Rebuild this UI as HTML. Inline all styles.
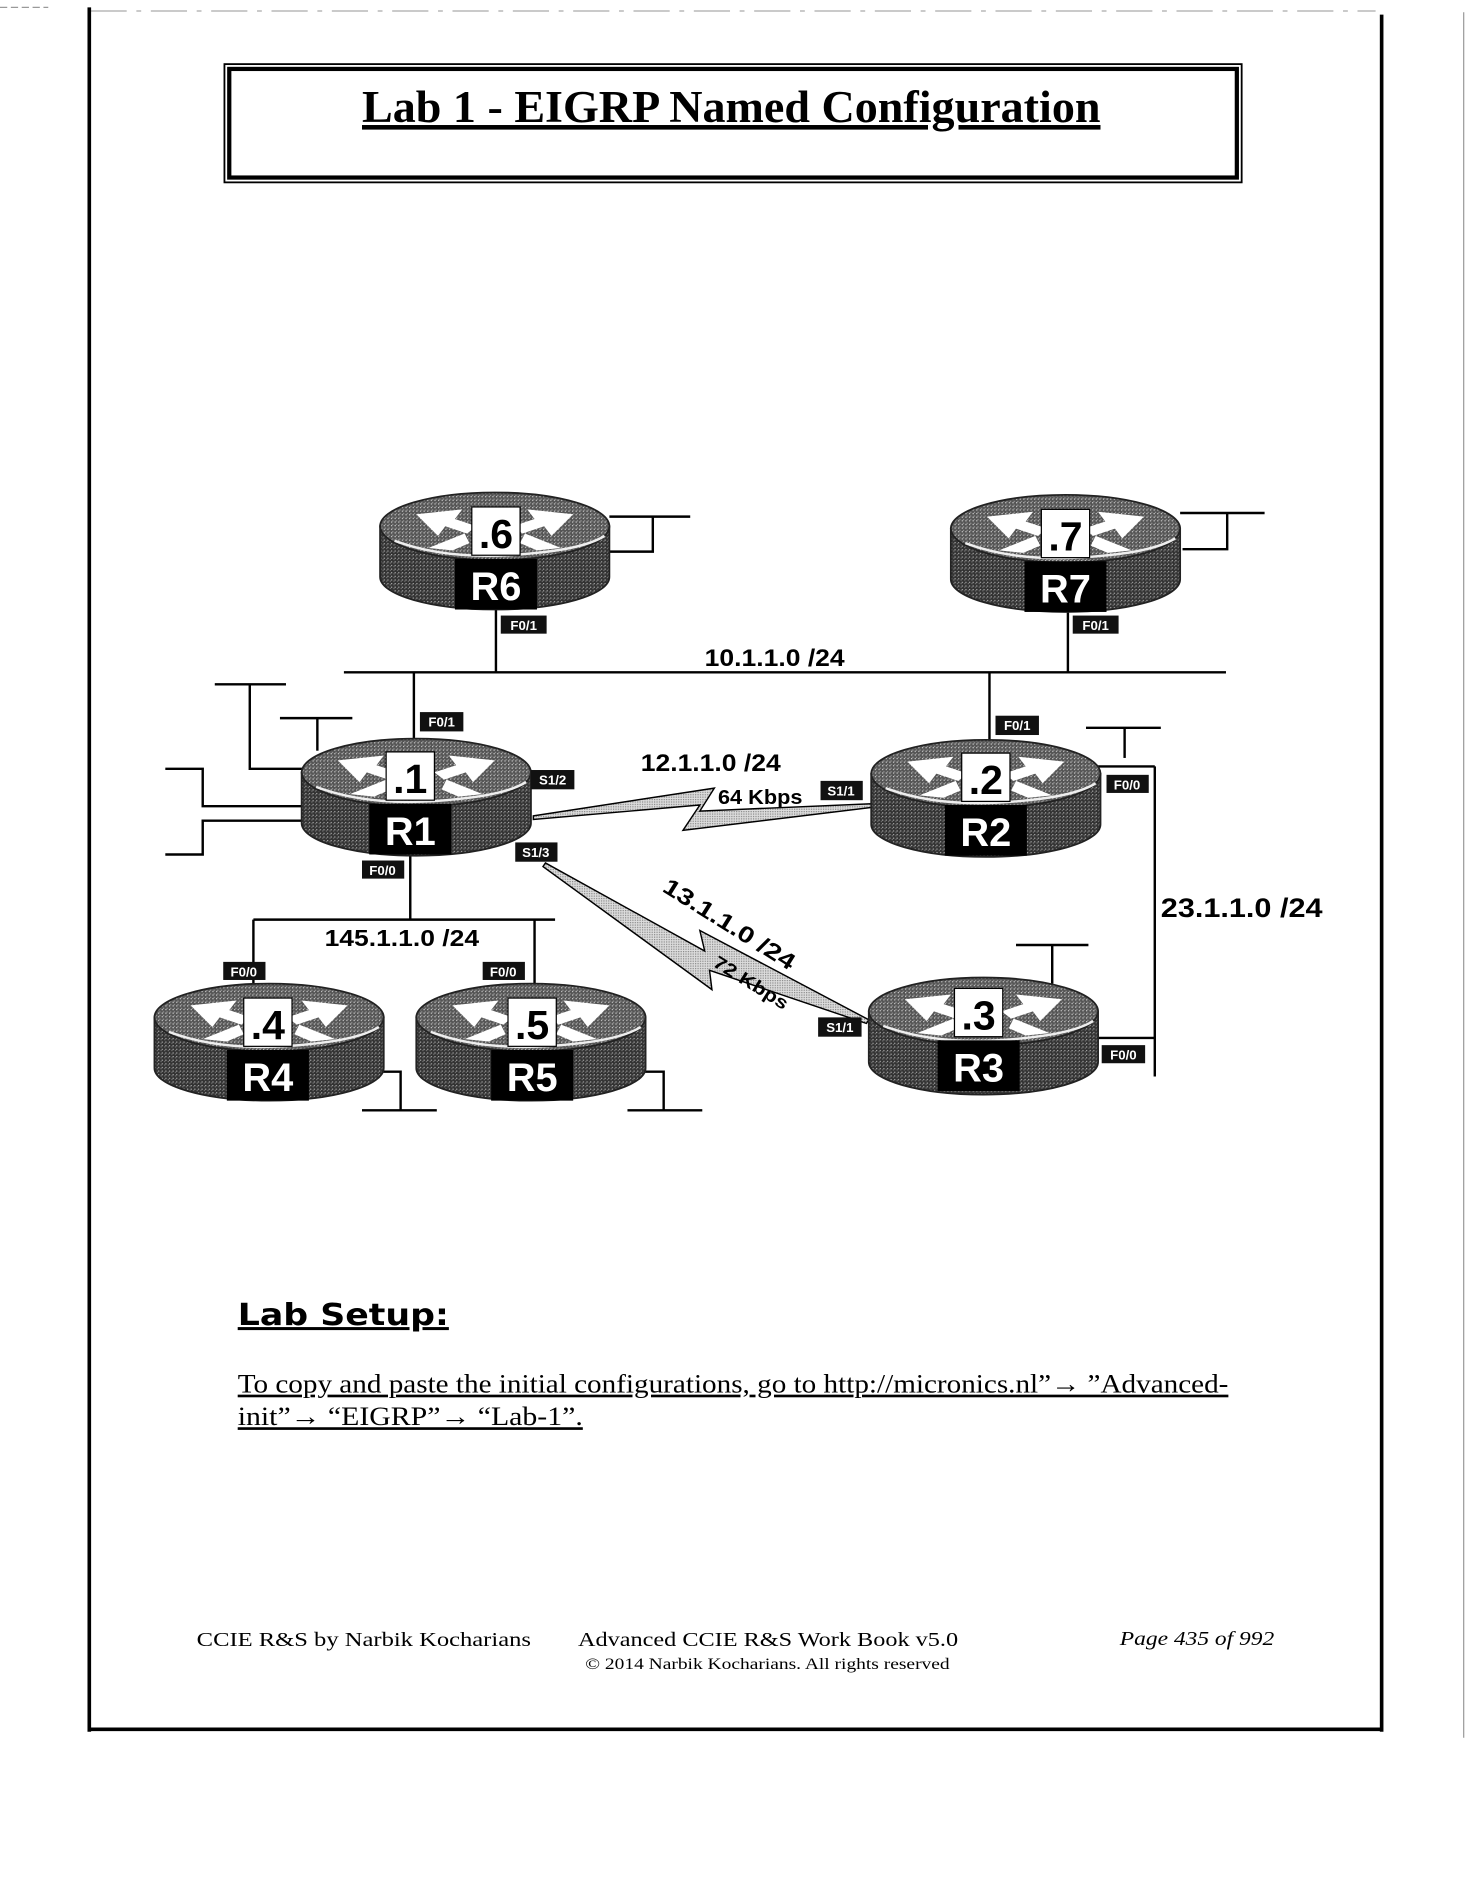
<!DOCTYPE html>
<html><head><meta charset="utf-8"><style>
html,body{margin:0;padding:0;background:#fff;}
svg{display:block;}
</style></head><body>
<svg width="1483" height="1896" viewBox="0 0 1229 1571" xmlns="http://www.w3.org/2000/svg">
<defs>
<pattern id="dith" width="3" height="3" patternUnits="userSpaceOnUse">
<rect width="3" height="3" fill="#333"/><rect width="1" height="1" fill="#aaa"/><rect x="2" y="1" width="1" height="1" fill="#777"/>
</pattern>
<pattern id="dith2" width="3" height="3" patternUnits="userSpaceOnUse">
<rect width="3" height="3" fill="#555"/><rect width="1" height="1" fill="#ccc"/><rect x="1" y="2" width="1" height="1" fill="#999"/>
</pattern>
<pattern id="lz" width="2" height="2" patternUnits="userSpaceOnUse">
<rect width="2" height="2" fill="#ddd"/><rect width="1" height="1" fill="#888"/>
</pattern>
<g id="rt">
<path d="M0,28 L0,70 A95,27 0 0 0 190,70 L190,28 Z" fill="url(#dith)" stroke="#222" stroke-width="1.5"/>
<ellipse cx="95" cy="28" rx="95" ry="28" fill="url(#dith2)" stroke="#222" stroke-width="1.5"/>
<path d="M12,40 Q60,58 130,50 Q170,46 186,36" fill="none" stroke="#eee" stroke-width="2"/>
<polygon points="30,18 68,14 62,22 80,28 72,34 54,28 48,36" fill="#fff"/>
<polygon points="160,18 122,14 128,22 110,28 118,34 136,28 142,36" fill="#fff"/>
<polygon points="40,46 70,34 74,42 60,48" fill="#fff"/>
<polygon points="150,46 120,34 116,42 130,48" fill="#fff"/>
</g>
</defs>

<line x1="0" y1="6" x2="40" y2="6" stroke="#999" stroke-width="1" stroke-dasharray="6 3"/>
<line x1="75" y1="9" x2="1140" y2="9" stroke="#aaa" stroke-width="1" stroke-dasharray="30 8 4 8"/>
<line x1="74" y1="6" x2="74" y2="1435" stroke="#000" stroke-width="3"/>
<line x1="73" y1="1433" x2="1146" y2="1433" stroke="#000" stroke-width="3"/>
<line x1="1145" y1="12" x2="1145" y2="1435" stroke="#000" stroke-width="3"/>
<line x1="1213" y1="10" x2="1213" y2="1440" stroke="#999" stroke-width="1"/>

<rect x="186" y="53" width="843" height="98" fill="none" stroke="#000" stroke-width="1.5"/>
<rect x="190" y="57" width="835" height="90" fill="none" stroke="#000" stroke-width="3.5"/>
<text x="300" y="101" textLength="612" lengthAdjust="spacingAndGlyphs" font-family="Liberation Serif" font-weight="bold" font-size="38" text-decoration="underline">Lab 1 - EIGRP Named Configuration</text>

<g stroke="#000" stroke-width="2" fill="none">
<line x1="285" y1="557" x2="1016" y2="557"/>
<line x1="411" y1="500" x2="411" y2="557"/>
<line x1="885" y1="500" x2="885" y2="557"/>
<line x1="343" y1="557" x2="343" y2="615"/>
<line x1="820" y1="557" x2="820" y2="615"/>
<line x1="210" y1="762" x2="460" y2="762"/>
<line x1="340" y1="705" x2="340" y2="762"/>
<line x1="210" y1="762" x2="210" y2="818"/>
<line x1="443" y1="762" x2="443" y2="818"/>
<line x1="957" y1="635" x2="957" y2="892"/>
<line x1="910" y1="635" x2="957" y2="635"/>
<line x1="908" y1="860" x2="957" y2="860"/>
<polyline points="505,428 572,428"/><polyline points="541,428 541,457 505,457"/>
<polyline points="978,425 1048,425"/><polyline points="1017,425 1017,455 980,455"/>
<polyline points="178,567 237,567"/><polyline points="207,567 207,637 255,637"/>
<polyline points="232,595 292,595"/><polyline points="263,595 263,622"/>
<polyline points="137,637 168,637 168,668 252,668"/>
<polyline points="250,680 168,680 168,708 137,708"/>
<polyline points="900,603 962,603"/><polyline points="932,603 932,628"/>
<polyline points="842,783 902,783"/><polyline points="872,783 872,815"/>
<polyline points="313,888 332,888 332,920"/><polyline points="300,920 362,920"/>
<polyline points="533,888 550,888 550,920"/><polyline points="520,920 582,920"/>
</g>

<polygon points="442,676 592,653 580,672 722,666 722,669 566,688 580,667 442,679" fill="url(#lz)" stroke="#000" stroke-width="1.2"/>
<polygon points="452,715 584,788 580,771 720,845 718,848 588,804 590,820 450,718" fill="url(#lz)" stroke="#000" stroke-width="1.2"/>

<use href="#rt" x="315" y="408"/>
<use href="#rt" x="788" y="410"/>
<use href="#rt" x="250" y="612"/>
<use href="#rt" x="722" y="613"/>
<use href="#rt" x="720" y="810"/>
<use href="#rt" x="128" y="815"/>
<use href="#rt" x="345" y="815"/>

<g font-family="Liberation Sans" font-weight="bold" text-anchor="middle">
<rect x="391" y="420" width="40" height="40" fill="#fff" stroke="#000"/><text x="411" y="454" font-size="34">.6</text>
<rect x="377" y="463" width="68" height="42" fill="#000"/><text x="411" y="497" font-size="33" fill="#fff">R6</text>
<rect x="863" y="422" width="40" height="40" fill="#fff" stroke="#000"/><text x="883" y="456" font-size="34">.7</text>
<rect x="849" y="465" width="68" height="42" fill="#000"/><text x="883" y="499" font-size="33" fill="#fff">R7</text>
<rect x="320" y="623" width="40" height="40" fill="#fff" stroke="#000"/><text x="340" y="657" font-size="34">.1</text>
<rect x="306" y="666" width="68" height="42" fill="#000"/><text x="340" y="700" font-size="33" fill="#fff">R1</text>
<rect x="797" y="624" width="40" height="40" fill="#fff" stroke="#000"/><text x="817" y="658" font-size="34">.2</text>
<rect x="783" y="667" width="68" height="42" fill="#000"/><text x="817" y="701" font-size="33" fill="#fff">R2</text>
<rect x="791" y="819" width="40" height="40" fill="#fff" stroke="#000"/><text x="811" y="853" font-size="34">.3</text>
<rect x="777" y="862" width="68" height="42" fill="#000"/><text x="811" y="896" font-size="33" fill="#fff">R3</text>
<rect x="202" y="827" width="40" height="40" fill="#fff" stroke="#000"/><text x="222" y="861" font-size="34">.4</text>
<rect x="188" y="870" width="68" height="42" fill="#000"/><text x="222" y="904" font-size="33" fill="#fff">R4</text>
<rect x="421" y="827" width="40" height="40" fill="#fff" stroke="#000"/><text x="441" y="861" font-size="34">.5</text>
<rect x="407" y="870" width="68" height="42" fill="#000"/><text x="441" y="904" font-size="33" fill="#fff">R5</text>
</g>

<g font-family="Liberation Sans" font-weight="bold" font-size="11" text-anchor="middle" fill="#fff">
<rect x="415" y="510" width="38" height="15" fill="#111"/><text x="434" y="522">F0/1</text>
<rect x="889" y="510" width="38" height="15" fill="#111"/><text x="908" y="522">F0/1</text>
<rect x="348" y="590" width="36" height="16" fill="#111"/><text x="366" y="602">F0/1</text>
<rect x="825" y="593" width="36" height="16" fill="#111"/><text x="843" y="605">F0/1</text>
<rect x="300" y="713" width="35" height="15" fill="#111"/><text x="317" y="725">F0/0</text>
<rect x="185" y="797" width="35" height="15" fill="#111"/><text x="202" y="809">F0/0</text>
<rect x="400" y="797" width="35" height="15" fill="#111"/><text x="417" y="809">F0/0</text>
<rect x="917" y="642" width="35" height="15" fill="#111"/><text x="934" y="654">F0/0</text>
<rect x="913" y="866" width="36" height="15" fill="#111"/><text x="931" y="878">F0/0</text>
<rect x="440" y="638" width="36" height="16" fill="#111"/><text x="458" y="650">S1/2</text>
<rect x="680" y="647" width="35" height="16" fill="#111"/><text x="697" y="659">S1/1</text>
<rect x="427" y="698" width="35" height="16" fill="#111"/><text x="444" y="710">S1/3</text>
<rect x="678" y="843" width="36" height="16" fill="#111"/><text x="696" y="855">S1/1</text>
</g>

<g font-family="Liberation Sans" font-weight="bold" fill="#000">
<text x="584" y="552" font-size="20" textLength="116" lengthAdjust="spacingAndGlyphs">10.1.1.0 /24</text>
<text x="531" y="639" font-size="20" textLength="116" lengthAdjust="spacingAndGlyphs">12.1.1.0 /24</text>
<text x="595" y="666" font-size="17" textLength="70" lengthAdjust="spacingAndGlyphs">64 Kbps</text>
<text x="269" y="784" font-size="19" textLength="128" lengthAdjust="spacingAndGlyphs">145.1.1.0 /24</text>
<text x="962" y="760" font-size="22" textLength="134" lengthAdjust="spacingAndGlyphs">23.1.1.0 /24</text>
<text transform="translate(548,738) rotate(32)" font-size="19" textLength="125" lengthAdjust="spacingAndGlyphs">13.1.1.0 /24</text>
<text transform="translate(590,800) rotate(32)" font-size="15" textLength="70" lengthAdjust="spacingAndGlyphs">72 Kbps</text>
</g>

<text x="197" y="1098" textLength="175" lengthAdjust="spacingAndGlyphs" font-family="DejaVu Sans" font-weight="bold" font-size="25" text-decoration="underline">Lab Setup:</text>
<g font-family="Liberation Serif" font-size="22" text-decoration="underline">
<text x="197" y="1154" textLength="821" lengthAdjust="spacingAndGlyphs">To copy and paste the initial configurations, go to http://micronics.nl”→ ”Advanced-</text>
<text x="197" y="1181" textLength="286" lengthAdjust="spacingAndGlyphs">init”→ “EIGRP”→ “Lab-1”.</text>
</g>

<g font-family="Liberation Serif" font-size="17">
<text x="163" y="1364" textLength="277" lengthAdjust="spacingAndGlyphs">CCIE R&amp;S by Narbik Kocharians</text>
<text x="479" y="1364" textLength="315" lengthAdjust="spacingAndGlyphs">Advanced CCIE R&amp;S Work Book v5.0</text>
<text x="928" y="1363" font-style="italic" textLength="128" lengthAdjust="spacingAndGlyphs">Page 435 of 992</text>
<text x="485" y="1383" font-size="13" textLength="302" lengthAdjust="spacingAndGlyphs">© 2014 Narbik Kocharians. All rights reserved</text>
</g>
</svg>
</body></html>
